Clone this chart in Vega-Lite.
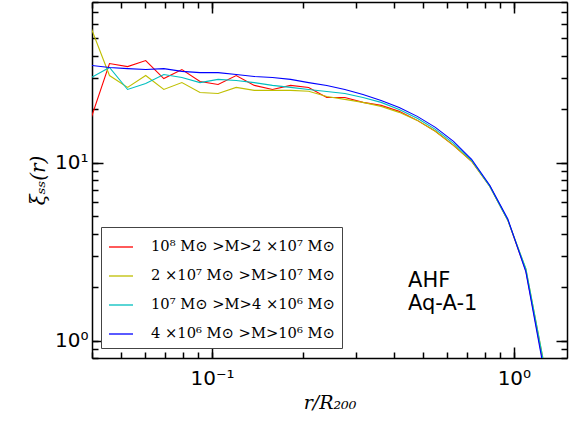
{
  "$schema": "https://vega.github.io/schema/vega-lite/v6.json",
  "width": 475,
  "height": 356,
  "autosize": {"type": "none"},
  "padding": {"left": 92, "top": 2, "right": 3, "bottom": 63},
  "background": "white",
  "config": {
    "view": {"stroke": null},
    "axis": {
      "grid": false,
      "domainColor": "black",
      "domainWidth": 1.5,
      "tickColor": "black",
      "tickWidth": 1.5,
      "labelColor": "black",
      "titleColor": "black",
      "labelOverlap": false,
      "labelFlush": false,
      "labelBound": false
    }
  },
  "layer": [
    {
      "data": {
        "values": [
          {"r": 0.03981, "s1": 18.0, "s2": 56.7, "s3": 30.1, "s4": 35.2},
          {"r": 0.04571, "s1": 36.1, "s2": 30.9, "s3": 34.3, "s4": 34.3},
          {"r": 0.05248, "s1": 34.7, "s2": 26.5, "s3": 25.8, "s4": 33.8},
          {"r": 0.06026, "s1": 37.5, "s2": 30.9, "s3": 27.9, "s4": 33.4},
          {"r": 0.06918, "s1": 29.7, "s2": 25.8, "s3": 31.3, "s4": 33.8},
          {"r": 0.07943, "s1": 33.4, "s2": 28.2, "s3": 30.1, "s4": 32.6},
          {"r": 0.0912, "s1": 28.6, "s2": 24.8, "s3": 28.2, "s4": 32.1},
          {"r": 0.1047, "s1": 27.5, "s2": 24.5, "s3": 29.4, "s4": 32.1},
          {"r": 0.1202, "s1": 30.9, "s2": 26.5, "s3": 29.0, "s4": 31.3},
          {"r": 0.138, "s1": 27.2, "s2": 25.5, "s3": 28.2, "s4": 30.5},
          {"r": 0.1585, "s1": 25.8, "s2": 25.5, "s3": 27.2, "s4": 30.1},
          {"r": 0.182, "s1": 27.2, "s2": 25.5, "s3": 26.5, "s4": 29.4},
          {"r": 0.2089, "s1": 26.5, "s2": 25.2, "s3": 25.8, "s4": 28.2},
          {"r": 0.2399, "s1": 23.28, "s2": 23.58, "s3": 25.15, "s4": 27.18},
          {"r": 0.2754, "s1": 23.28, "s2": 22.69, "s3": 24.51, "s4": 25.81},
          {"r": 0.3162, "s1": 21.83, "s2": 21.83, "s3": 23.28, "s4": 24.2},
          {"r": 0.3631, "s1": 21.0, "s2": 20.73, "s3": 21.83, "s4": 22.39},
          {"r": 0.4169, "s1": 19.44, "s2": 19.19, "s3": 19.94, "s4": 20.46},
          {"r": 0.4786, "s1": 17.3, "s2": 17.3, "s3": 17.76, "s4": 18.22},
          {"r": 0.5495, "s1": 15.02, "s2": 15.02, "s3": 15.4, "s4": 15.81},
          {"r": 0.631, "s1": 12.53, "s2": 12.53, "s3": 12.86, "s4": 13.19},
          {"r": 0.7244, "s1": 10.19, "s2": 10.19, "s3": 10.33, "s4": 10.46},
          {"r": 0.8318, "s1": 7.39, "s2": 7.39, "s3": 7.39, "s4": 7.48},
          {"r": 0.955, "s1": 4.76, "s2": 4.76, "s3": 4.76, "s4": 4.83},
          {"r": 1.096, "s1": 2.47, "s2": 2.53, "s3": 2.53, "s4": 2.44},
          {"r": 1.259, "s1": 0.706, "s2": 0.743, "s3": 0.734, "s4": 0.679}
        ]
      },
      "transform": [{"fold": ["s1", "s2", "s3", "s4"], "as": ["series", "xi"]}],
      "mark": {"type": "line", "clip": true, "strokeWidth": 1.1},
      "encoding": {
        "x": {
          "field": "r",
          "type": "quantitative",
          "scale": {"type": "log", "domain": [0.04, 1.5], "nice": false},
          "axis": {
            "orient": "bottom",
            "values": [0.04, 0.05, 0.06, 0.07, 0.08, 0.09, 0.1, 0.2, 0.3, 0.4, 0.5, 0.6, 0.7, 0.8, 0.9, 1],
            "tickSize": -6,
            "labelExpr": "datum.value == 0.1 ? '10⁻¹' : datum.value == 1 ? '10⁰' : ''",
            "labelFont": "DejaVu Sans",
            "labelFontSize": 20,
            "labelPadding": 16,
            "title": "r/R₂₀₀",
            "titleFont": "DejaVu Serif",
            "titleFontStyle": "italic",
            "titleFontWeight": "normal",
            "titleFontSize": 19,
            "titlePadding": 5
          }
        },
        "y": {
          "field": "xi",
          "type": "quantitative",
          "scale": {"type": "log", "domain": [0.8, 80], "nice": false},
          "axis": {
            "orient": "left",
            "values": [0.8, 0.9, 1, 2, 3, 4, 5, 6, 7, 8, 9, 10, 20, 30, 40, 50, 60, 70, 80],
            "tickSize": -6,
            "labelExpr": "datum.value == 1 ? '10⁰' : datum.value == 10 ? '10¹' : ''",
            "labelFont": "DejaVu Sans",
            "labelFontSize": 20,
            "labelPadding": 10,
            "title": "ξₛₛ(r)",
            "titleFont": "DejaVu Serif",
            "titleFontStyle": "italic",
            "titleFontWeight": "normal",
            "titleFontSize": 20,
            "titlePadding": 6
          }
        },
        "color": {
          "field": "series",
          "type": "nominal",
          "scale": {"domain": ["s1", "s2", "s3", "s4"], "range": ["#ff0000", "#bfbf00", "#00bfbf", "#0000ff"]},
          "legend": {
            "orient": "none",
            "legendX": 9,
            "legendY": 225,
            "title": null,
            "symbolType": "stroke",
            "symbolSize": 576,
            "symbolStrokeWidth": 1.3,
            "labelFont": "DejaVu Serif",
            "labelFontSize": 14.7,
            "labelColor": "black",
            "labelLimit": 400,
            "labelOffset": 17,
            "rowPadding": 9,
            "padding": 7,
            "strokeColor": "#444444",
            "fillColor": "white",
            "labelExpr": "datum.value == 's1' ? '10⁸ M⊙ >M>2 ×10⁷ M⊙' : datum.value == 's2' ? '2 ×10⁷ M⊙ >M>10⁷ M⊙' : datum.value == 's3' ? '10⁷ M⊙ >M>4 ×10⁶ M⊙' : '4 ×10⁶ M⊙ >M>10⁶ M⊙'"
          }
        }
      }
    },
    {
      "data": {"values": [{"r": 0.446, "xi": 2.0, "t": "AHF"}, {"r": 0.446, "xi": 1.49, "t": "Aq-A-1"}]},
      "mark": {"type": "text", "align": "left", "baseline": "alphabetic", "font": "DejaVu Sans", "fontSize": 21, "color": "black"},
      "encoding": {
        "x": {
          "field": "r",
          "type": "quantitative",
          "scale": {"type": "log", "domain": [0.04, 1.5], "nice": false},
          "axis": {
            "orient": "top",
            "values": [0.04, 0.05, 0.06, 0.07, 0.08, 0.09, 0.1, 0.2, 0.3, 0.4, 0.5, 0.6, 0.7, 0.8, 0.9, 1],
            "tickSize": -6,
            "labels": false,
            "title": null
          }
        },
        "y": {
          "field": "xi",
          "type": "quantitative",
          "scale": {"type": "log", "domain": [0.8, 80], "nice": false},
          "axis": {
            "orient": "right",
            "values": [0.8, 0.9, 1, 2, 3, 4, 5, 6, 7, 8, 9, 10, 20, 30, 40, 50, 60, 70, 80],
            "tickSize": -6,
            "labels": false,
            "title": null
          }
        },
        "text": {"field": "t"}
      }
    },
    {
      "data": {"values": [{"r": 0.1, "xi": 1}]},
      "mark": {"type": "point", "opacity": 0},
      "encoding": {
        "x": {
          "field": "r",
          "type": "quantitative",
          "scale": {"type": "log", "domain": [0.04, 1.5], "nice": false},
          "axis": {"orient": "bottom", "values": [0.1, 1], "tickSize": -11, "labels": false, "title": null, "domain": false}
        },
        "y": {
          "field": "xi",
          "type": "quantitative",
          "scale": {"type": "log", "domain": [0.8, 80], "nice": false},
          "axis": {"orient": "left", "values": [1, 10], "tickSize": -11, "labels": false, "title": null, "domain": false}
        }
      }
    },
    {
      "data": {"values": [{"r": 0.1, "xi": 1}]},
      "mark": {"type": "point", "opacity": 0},
      "encoding": {
        "x": {
          "field": "r",
          "type": "quantitative",
          "scale": {"type": "log", "domain": [0.04, 1.5], "nice": false},
          "axis": {"orient": "top", "values": [0.1, 1], "tickSize": -11, "labels": false, "title": null, "domain": false}
        },
        "y": {
          "field": "xi",
          "type": "quantitative",
          "scale": {"type": "log", "domain": [0.8, 80], "nice": false},
          "axis": {"orient": "right", "values": [1, 10], "tickSize": -11, "labels": false, "title": null, "domain": false}
        }
      }
    }
  ],
  "resolve": {"axis": {"x": "independent", "y": "independent"}}
}
